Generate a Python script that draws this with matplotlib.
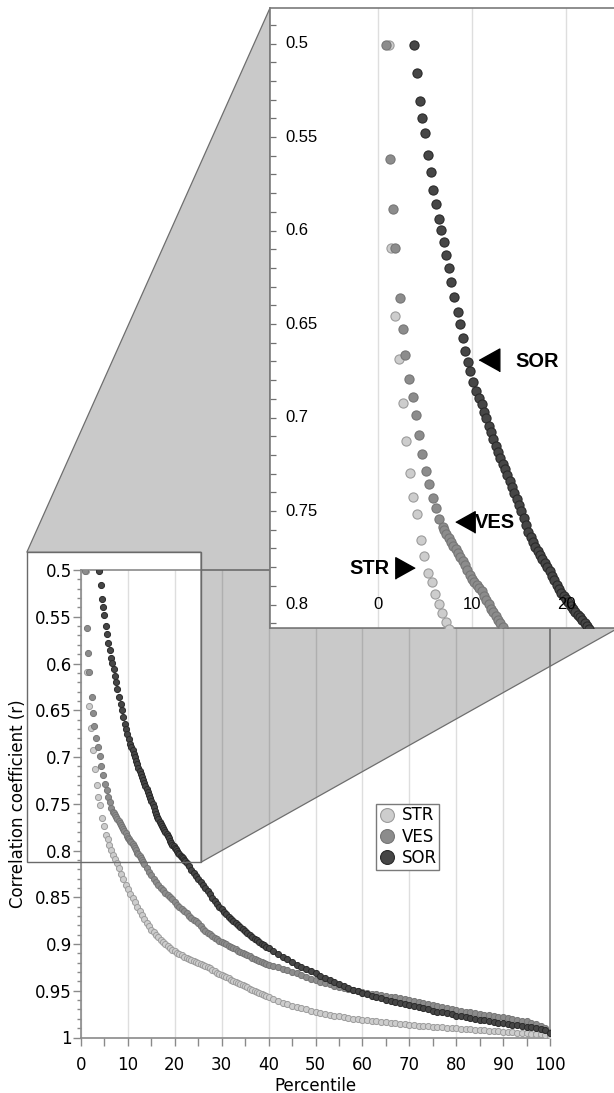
import matplotlib
matplotlib.use("Agg")
import matplotlib.pyplot as plt
from matplotlib.lines import Line2D
from matplotlib.patches import Polygon
from matplotlib.ticker import MultipleLocator, FuncFormatter

plt.rcParams["font.family"] = ["DejaVu Sans"]
plt.rcParams["font.size"] = 12

# ---------------------------------------------------------------- data
series_names = ["STR", "VES", "SOR"]

str_pct = [1.10, 1.35, 1.81, 2.17, 2.59, 2.95, 3.41, 3.73, 4.12, 4.55,
           4.83, 5.30, 5.68, 6.04, 6.50, 6.79, 7.22, 7.57,
           8.0, 8.5, 9.0, 9.5, 10.0, 10.5, 11.0, 11.5, 12.0, 12.5,
           13.0, 13.5, 14.0, 14.5, 15.0, 15.5, 16.0, 16.5, 17.0, 17.5,
           18.0, 18.5, 19.0, 19.5, 20.0, 20.5, 21.0, 21.5, 22.0, 22.5,
           23.0, 23.5, 24.0, 24.5, 25.0, 25.5, 26.0, 26.5, 27.0, 27.5,
           28.0, 28.5, 29.0, 29.5, 30.0, 30.5, 31.0, 31.5, 32.0, 32.5,
           33.0, 33.5, 34.0, 34.5, 35.0, 35.5, 36.0, 36.5, 37.0, 37.5,
           38.0, 38.5, 39.0, 39.5, 40.0,
           41, 42, 43, 44, 45, 46, 47, 48, 49, 50,
           51, 52, 53, 54, 55, 56, 57, 58, 59, 60,
           61, 62, 63, 64, 65, 66, 67, 68, 69, 70,
           71, 72, 73, 74, 75, 76, 77, 78, 79, 80,
           81, 82, 83, 84, 85, 86, 87, 88, 89, 90,
           91, 92, 93, 94, 95, 96, 97, 98, 99, 100]
str_r = [0.5010, 0.6094, 0.6458, 0.6686, 0.6924, 0.7123, 0.7296, 0.7426, 0.7516, 0.7653,
         0.7743, 0.7830, 0.7881, 0.7943, 0.7997, 0.8045, 0.8095, 0.8130,
         0.8190, 0.8250, 0.8310, 0.8365, 0.8410, 0.8460, 0.8510, 0.8555, 0.8600, 0.8645,
         0.8690, 0.8730, 0.8775, 0.8812, 0.8845, 0.8875, 0.8903, 0.8930, 0.8955, 0.8980,
         0.9003, 0.9025, 0.9045, 0.9062, 0.9080, 0.9097, 0.9110, 0.9122, 0.9135, 0.9148,
         0.9160, 0.9172, 0.9185, 0.9197, 0.9208, 0.9218, 0.9228, 0.9238, 0.9250, 0.9262,
         0.9275, 0.9290, 0.9305, 0.9320, 0.9332, 0.9345, 0.9357, 0.9368, 0.9380, 0.9392,
         0.9403, 0.9413, 0.9425, 0.9437, 0.9450, 0.9463, 0.9477, 0.9490, 0.9503, 0.9515,
         0.9527, 0.9538, 0.9550, 0.9560, 0.9570,
         0.9590, 0.9610, 0.9628, 0.9645, 0.9660, 0.9675, 0.9688, 0.9700, 0.9712, 0.9724,
         0.9735, 0.9745, 0.9756, 0.9766, 0.9775, 0.9783, 0.9791, 0.9798, 0.9805, 0.9811,
         0.9817, 0.9822, 0.9828, 0.9833, 0.9838, 0.9843, 0.9848, 0.9853, 0.9858, 0.9863,
         0.9868, 0.9873, 0.9877, 0.9881, 0.9885, 0.9889, 0.9893, 0.9897, 0.9900, 0.9903,
         0.9907, 0.9910, 0.9914, 0.9917, 0.9921, 0.9924, 0.9928, 0.9931, 0.9935, 0.9938,
         0.9942, 0.9945, 0.9948, 0.9952, 0.9955, 0.9959, 0.9963, 0.9967, 0.9972, 0.9980]

ves_pct = [0.82, 1.20, 1.53, 1.81, 2.27, 2.59, 2.81, 3.30, 3.66, 4.01,
           4.37, 4.69, 5.08, 5.44, 5.79, 6.15, 6.50, 6.86,
           7.00, 7.25, 7.50, 7.75, 8.00, 8.25, 8.50, 8.75, 9.00, 9.25,
           9.50, 9.75, 10.00, 10.25, 10.50, 10.75, 11.00, 11.25, 11.50, 11.75,
           12.00, 12.25, 12.50, 12.75, 13.00, 13.25, 13.50,
           14.0, 14.5, 15.0, 15.5, 16.0, 16.5, 17.0, 17.5, 18.0, 18.5,
           19.0, 19.5, 20.0, 20.5, 21.0, 21.5, 22.0, 22.5, 23.0, 23.5,
           24.0, 24.5, 25.0, 25.5, 26.0, 26.5, 27.0, 27.5, 28.0, 28.5,
           29.0, 29.5, 30.0, 30.5, 31.0, 31.5, 32.0, 32.5, 33.0, 33.5,
           34.0, 34.5, 35.0, 35.5, 36.0, 36.5, 37.0, 37.5, 38.0, 38.5,
           39.0, 39.5, 40.0,
           41, 42, 43, 44, 45, 46, 47, 48, 49, 50,
           51, 52, 53, 54, 55, 56, 57, 58, 59, 60,
           61, 62, 63, 64, 65, 66, 67, 68, 69, 70,
           71, 72, 73, 74, 75, 76, 77, 78, 79, 80,
           81, 82, 83, 84, 85, 86, 87, 88, 89, 90,
           91, 92, 93, 94, 95, 96, 97, 98, 99, 100]
ves_r = [0.5010, 0.5618, 0.5883, 0.6094, 0.6360, 0.6529, 0.6666, 0.6794, 0.6888, 0.6988,
         0.7095, 0.7194, 0.7287, 0.7356, 0.7428, 0.7484, 0.7543, 0.7588,
         0.7600, 0.7622, 0.7645, 0.7666, 0.7686, 0.7705, 0.7724, 0.7744, 0.7765, 0.7790,
         0.7815, 0.7840, 0.7862, 0.7880, 0.7897, 0.7913, 0.7930, 0.7952, 0.7975, 0.7998,
         0.8022, 0.8042, 0.8062, 0.8081, 0.8100, 0.8122, 0.8145,
         0.8190, 0.8225, 0.8262, 0.8300, 0.8340, 0.8370, 0.8398, 0.8425, 0.8450, 0.8475,
         0.8495, 0.8520, 0.8550, 0.8580, 0.8605, 0.8628, 0.8650, 0.8672, 0.8698, 0.8722,
         0.8740, 0.8755, 0.8780, 0.8810, 0.8840, 0.8862, 0.8880, 0.8898, 0.8915, 0.8932,
         0.8950, 0.8965, 0.8980, 0.8993, 0.9005, 0.9020, 0.9033, 0.9045, 0.9058, 0.9070,
         0.9082, 0.9095, 0.9108, 0.9120, 0.9133, 0.9145, 0.9157, 0.9167, 0.9178, 0.9190,
         0.9200, 0.9210, 0.9220,
         0.9236, 0.9250, 0.9263, 0.9277, 0.9295, 0.9315, 0.9334, 0.9352, 0.9370, 0.9387,
         0.9403, 0.9418, 0.9432, 0.9445, 0.9458, 0.9471, 0.9484, 0.9496, 0.9505, 0.9515,
         0.9523, 0.9531, 0.9539, 0.9547, 0.9555, 0.9563, 0.9572, 0.9581, 0.9591, 0.9601,
         0.9612, 0.9623, 0.9634, 0.9645, 0.9657, 0.9666, 0.9676, 0.9686, 0.9695, 0.9705,
         0.9714, 0.9723, 0.9732, 0.9741, 0.9752, 0.9758, 0.9764, 0.9770, 0.9776, 0.9782,
         0.9791, 0.9800, 0.9810, 0.9819, 0.9828, 0.9840, 0.9855, 0.9872, 0.9895, 0.9940]

sor_pct = [3.78, 4.16, 4.44, 4.69, 4.94, 5.33, 5.58, 5.83, 6.11, 6.43,
           6.68, 6.96, 7.25, 7.50, 7.78, 8.07, 8.50, 8.71, 9.00, 9.28,
           9.52, 9.77, 10.13, 10.41, 10.70,
           11.00, 11.25, 11.50, 11.75, 12.00, 12.25, 12.50, 12.75, 13.00, 13.25,
           13.50, 13.75, 14.00, 14.25, 14.50, 14.75, 15.00, 15.25, 15.50, 15.75,
           16.00, 16.25, 16.50, 16.75, 17.00, 17.25, 17.50, 17.75, 18.00, 18.25,
           18.50, 18.75, 19.00, 19.25, 19.50, 19.75, 20.00, 20.25, 20.50, 20.75,
           21.00, 21.25, 21.50, 21.75, 22.00, 22.25, 22.50,
           23.0, 23.5, 24.0, 24.5, 25.0, 25.5, 26.0, 26.5, 27.0, 27.5,
           28.0, 28.5, 29.0, 29.5, 30.0, 30.5, 31.0, 31.5, 32.0, 32.5,
           33.0, 33.5, 34.0, 34.5, 35.0, 35.5, 36.0, 36.5, 37.0, 37.5,
           38.0, 38.5, 39.0, 39.5, 40.0,
           41, 42, 43, 44, 45, 46, 47, 48, 49, 50,
           51, 52, 53, 54, 55, 56, 57, 58, 59, 60,
           61, 62, 63, 64, 65, 66, 67, 68, 69, 70,
           71, 72, 73, 74, 75, 76, 77, 78, 79, 80,
           81, 82, 83, 84, 85, 86, 87, 88, 89, 90,
           91, 92, 93, 94, 95, 96, 97, 98, 99, 100]
sor_r = [0.5009, 0.5160, 0.5306, 0.5397, 0.5480, 0.5594, 0.5685, 0.5783, 0.5860, 0.5941,
         0.5997, 0.6062, 0.6132, 0.6201, 0.6276, 0.6356, 0.6435, 0.6502, 0.6573, 0.6644,
         0.6702, 0.6751, 0.6810, 0.6858, 0.6894,
         0.6930, 0.6968, 0.7005, 0.7043, 0.7080, 0.7117, 0.7153, 0.7186, 0.7218, 0.7248,
         0.7277, 0.7308, 0.7340, 0.7371, 0.7402, 0.7434, 0.7466, 0.7500, 0.7535, 0.7575,
         0.7612, 0.7640, 0.7665, 0.7690, 0.7713, 0.7734, 0.7755, 0.7776, 0.7797, 0.7821,
         0.7845, 0.7871, 0.7896, 0.7917, 0.7937, 0.7955, 0.7972, 0.7989, 0.8006, 0.8022,
         0.8038, 0.8054, 0.8069, 0.8085, 0.8100, 0.8115, 0.8130,
         0.8170, 0.8210, 0.8245, 0.8275, 0.8305, 0.8335, 0.8365, 0.8398, 0.8432, 0.8470,
         0.8505, 0.8540, 0.8572, 0.8600, 0.8628, 0.8655, 0.8683, 0.8710, 0.8735, 0.8758,
         0.8780, 0.8800, 0.8822, 0.8843, 0.8865, 0.8887, 0.8908, 0.8928, 0.8945, 0.8962,
         0.8982, 0.8998, 0.9013, 0.9028, 0.9043,
         0.9075, 0.9110, 0.9135, 0.9165, 0.9195, 0.9222, 0.9245, 0.9265, 0.9285, 0.9310,
         0.9338, 0.9362, 0.9385, 0.9405, 0.9425, 0.9450, 0.9472, 0.9490, 0.9505, 0.9522,
         0.9538, 0.9552, 0.9566, 0.9580, 0.9594, 0.9606, 0.9618, 0.9630, 0.9642, 0.9652,
         0.9664, 0.9676, 0.9688, 0.9700, 0.9712, 0.9722, 0.9732, 0.9743, 0.9754, 0.9765,
         0.9774, 0.9783, 0.9792, 0.9800, 0.9810, 0.9818, 0.9826, 0.9834, 0.9841, 0.9848,
         0.9856, 0.9864, 0.9871, 0.9878, 0.9886, 0.9893, 0.9900, 0.9910, 0.9925, 0.9955]

assert len(str_pct) == len(str_r)
assert len(ves_pct) == len(ves_r)
assert len(sor_pct) == len(sor_r)

pct_data = {"STR": str_pct, "VES": ves_pct, "SOR": sor_pct}
r_data = {"STR": str_r, "VES": ves_r, "SOR": sor_r}

# tick values
main_pct_ticks = [0, 10, 20, 30, 40, 50, 60, 70, 80, 90, 100]
inset_pct_ticks = [0, 10, 20]
inset_r_ticks = [0.5, 0.55, 0.6, 0.65, 0.7, 0.75, 0.8]

# magnified window (percentile range, r range)
BOX_X = (-11.55, 25.6)
BOX_R = (0.481, 0.8125)

# ---------------------------------------------------------------- styles
face = {"STR": "#cdcdcd", "VES": "#8c8c8c", "SOR": "#464646"}
edge = {"STR": "#9c9c9c", "VES": "#767676", "SOR": "#2a2a2a"}
SPINE = "#8a8a8a"
GRID = "#dedede"
INSET_FONT = "Liberation Sans"

# ---------------------------------------------------------------- layout
W, H = 614, 1093
fig = plt.figure(figsize=(W / 100, H / 100), dpi=100)

AX_L, AX_R, AX_T, AX_B = 81, 550, 570, 1037.5
ax = fig.add_axes([AX_L / W, 1 - AX_B / H, (AX_R - AX_L) / W, (AX_B - AX_T) / H])
ax.set_xlim(0, 100)
ax.set_ylim(1.0, 0.5)

px_per_pct = (AX_R - AX_L) / 100.0
px_per_r = (AX_B - AX_T) / 0.5
ZOOM = 2.0
INSET_L, INSET_T = 270, 8
ins_w = (BOX_X[1] - BOX_X[0]) * px_per_pct * ZOOM
ins_h = (BOX_R[1] - BOX_R[0]) * px_per_r * ZOOM
ins = fig.add_axes([INSET_L / W, 1 - (INSET_T + ins_h) / H, ins_w / W, ins_h / H])
ins.set_xlim(*BOX_X)
ins.set_ylim(BOX_R[1], BOX_R[0])
ins.set_zorder(3)

# ---------------------------------------------------------------- main panel
for name in series_names:
    ax.plot(pct_data[name], r_data[name], ls="none", marker="o", ms=4.4,
            mfc=face[name], mec=edge[name], mew=0.7, zorder=3)

ax.set_axisbelow(True)
ax.set_xticks(main_pct_ticks)
ax.xaxis.set_minor_locator(MultipleLocator(5))
ax.yaxis.set_major_locator(MultipleLocator(0.05))
ax.yaxis.set_minor_locator(MultipleLocator(0.01))
ax.yaxis.set_major_formatter(FuncFormatter(lambda v, _: f"{v:g}"))
ax.grid(axis="x", which="major", color=GRID, lw=1.0)
ax.tick_params(axis="x", which="both", direction="out", length=5.5, width=1.0,
               color=SPINE, pad=8, labelsize=12)
ax.tick_params(axis="y", which="major", direction="out", length=5.5, width=1.0,
               color=SPINE, pad=1.2, labelsize=12)
ax.tick_params(axis="y", which="minor", direction="out", length=3.2, width=1.0,
               color=SPINE)
for sp in ax.spines.values():
    sp.set_color(SPINE)
    sp.set_linewidth(1.2)
ax.set_xlabel("Percentile", fontsize=12, labelpad=2)
ax.set_ylabel("Correlation coefficient (r)", fontsize=12, labelpad=6)

# ---------------------------------------------------------------- magnified panel
for name in series_names:
    ins.plot(pct_data[name], r_data[name], ls="none", marker="o", ms=6.6,
             mfc=face[name], mec=edge[name], mew=0.8, zorder=3)

ins.set_axisbelow(True)
ins.set_xticks(inset_pct_ticks)
ins.grid(axis="x", which="major", color=GRID, lw=1.0)
ins.tick_params(axis="x", length=0, labelbottom=False)
ins.yaxis.set_major_locator(MultipleLocator(0.05))
ins.yaxis.set_minor_locator(MultipleLocator(0.01))
ins.tick_params(axis="y", which="both", direction="in", length=4.3, width=0.9,
                color="#707070", labelleft=False)
for sp in ins.spines.values():
    sp.set_color("#7a7a7a")
    sp.set_linewidth(1.2)

for v in inset_r_ticks:
    ins.text(15.7 / ins_w, v, f"{v:g}", transform=ins.get_yaxis_transform(),
             ha="left", va="center", fontsize=12, family=INSET_FONT)
for v in inset_pct_ticks:
    ins.text(v, 0.8, f"{v:g}", ha="center", va="center", fontsize=12,
             family=INSET_FONT)

# arrow heads and series tags
tri_left = [(-0.45, 0.0), (0.45, 0.5), (0.45, -0.5)]
tri_right = [(0.45, 0.0), (-0.45, 0.5), (-0.45, -0.5)]
ins.plot([11.80], [0.6692], ls="none", marker=tri_left, ms=16.5, color="black", zorder=4)
ins.text(14.57, 0.6698, "SOR", ha="left", va="center", fontsize=14.4,
         fontweight="bold", family=INSET_FONT, zorder=4)
ins.plot([9.29], [0.7561], ls="none", marker=tri_left, ms=15.5, color="black", zorder=4)
ins.text(10.30, 0.7564, "VES", ha="left", va="center", fontsize=14.4,
         fontweight="bold", family=INSET_FONT, zorder=4)
ins.plot([2.84], [0.7802], ls="none", marker=tri_right, ms=15.5, color="black", zorder=4)
ins.text(1.24, 0.7805, "STR", ha="right", va="center", fontsize=14.4,
         fontweight="bold", family=INSET_FONT, zorder=4)

# ---------------------------------------------------------------- connector wedge
to_fig = fig.transFigure.inverted()


def main_pt(x, r):
    return tuple(to_fig.transform(ax.transData.transform((x, r))))


def ins_pt(u, v):
    return tuple(to_fig.transform(ins.transAxes.transform((u, v))))


A = main_pt(BOX_X[0], BOX_R[0])
F = main_pt(BOX_X[1], BOX_R[0])
E = main_pt(BOX_X[1], BOX_R[1])
G = main_pt(BOX_X[0], BOX_R[1])
B = ins_pt(0, 1)
C = ins_pt(0, 0)
D = ins_pt(1, 0)

wedge = Polygon([A, B, C, D, E, F], closed=True, transform=fig.transFigure,
                facecolor=(0, 0, 0, 0.21), edgecolor="#6e6e6e", lw=0.9, zorder=1)
fig.add_artist(wedge)
frame = Polygon([A, F, E, G], closed=True, transform=fig.transFigure, fill=False,
                edgecolor="#6a6a6a", lw=1.0, zorder=1.5)
fig.add_artist(frame)

# ---------------------------------------------------------------- legend
handles = [Line2D([], [], ls="none", marker="o", ms=10, mfc=face[n], mec=edge[n], mew=0.8)
           for n in series_names]
leg = fig.legend(handles, series_names, loc="upper left",
                 bbox_to_anchor=(376 / W, 1 - 804 / H), bbox_transform=fig.transFigure,
                 frameon=True, fancybox=False, framealpha=1, edgecolor="#7a7a7a",
                 borderpad=0.15, handlelength=1.0, handletextpad=0.4,
                 labelspacing=0.2, borderaxespad=0, fontsize=12)
leg.get_frame().set_linewidth(1.0)

fig.savefig("out.png", dpi=100)
